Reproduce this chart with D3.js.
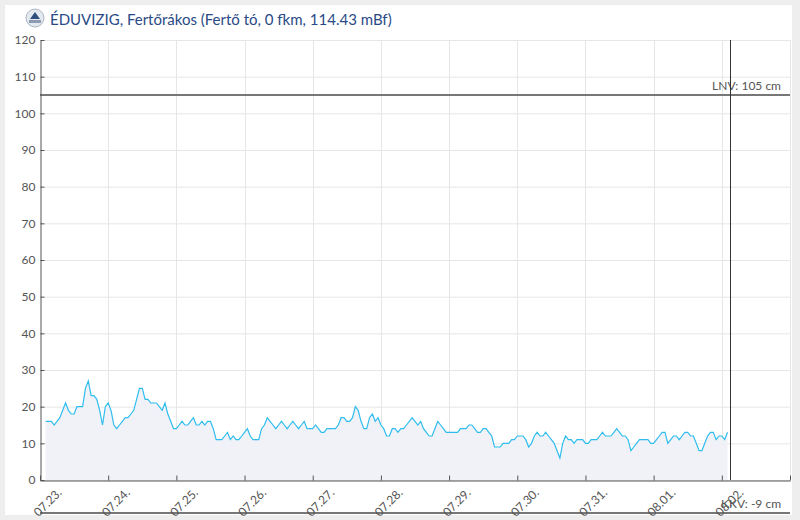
<!DOCTYPE html>
<html>
<head>
<meta charset="utf-8">
<script src="https://cdn.jsdelivr.net/npm/d3@7"></script>
<style>
  body { margin: 0; background: #eeeeee; }
  svg { display: block; font-family: Lato, "Open Sans", sans-serif; }
</style>
</head>
<body>
<svg id="chart" width="800" height="520"></svg>
<script>
// chart data
const title = "ÉDUVIZIG, Fertőrákos (Fertő tó, 0 fkm, 114.43 mBf)";
const firstHour = "2024-07-23T02:00:00";   // hourly readings from here
const levels = [
  16,16,16,15,16,17,19,21,19,
  18,18,20,20,20,25,27,23,23,22,
  19,15,20,21,19,15,14,15,16,17,
  17,18,19,22,25,25,22,22,21,21,
  21,20,19,21,18,16,14,14,15,16,
  15,15,16,17,15,15,16,15,16,16,
  14,11,11,11,12,13,11,12,11,11,
  12,13,14,12,11,11,11,14,15,17,
  16,15,14,15,16,15,14,15,16,15,
  14,15,16,14,14,14,15,14,13,13,
  14,14,14,14,15,17,17,16,16,17,
  20,19,16,14,14,17,18,16,17,15,
  14,12,12,14,14,13,14,14,15,16,
  17,16,15,16,14,13,12,12,14,16,
  15,14,13,13,13,13,13,14,14,14,
  15,15,14,13,13,14,14,13,12,9,
  9,9,10,10,10,11,11,12,12,12,
  11,9,10,12,13,12,12,13,12,11,
  10,8,6,10,12,11,11,10,11,11,
  11,10,10,11,11,11,12,13,12,12,
  12,13,14,13,12,12,11,8,9,10,
  11,11,11,11,10,10,11,12,13,
  13,10,11,12,12,11,12,13,13,12,
  12,10,8,8,10,12,13,13,11,12,
  12,11,13
];
const dayTicks = ["2024-07-23","2024-07-24","2024-07-25","2024-07-26","2024-07-27","2024-07-28",
                  "2024-07-29","2024-07-30","2024-07-31","2024-08-01","2024-08-02"];
const yTicks = [0,10,20,30,40,50,60,70,80,90,100,110,120];
const xDomain = ["2024-07-23T00:00:00", "2024-08-03T00:00:00"];
const nowTime = "2024-08-02T03:00:00";
const lnv = 105;   // LNV: 105 cm
const kkv = -9;    // KKV: -9 cm

const parse = d3.isoParse;
const t0 = parse(firstHour);
const data = levels.map((v, i) => ({date: d3.timeHour.offset(t0, i), value: v}));

const svg = d3.select("#chart");

// white panel
svg.append("rect")
    .attr("x", 5).attr("y", 5)
    .attr("width", 787).attr("height", 510)
    .attr("fill", "#fff");

// logo + title
const logo = svg.append("g").attr("transform", "translate(35,18)");
logo.append("circle").attr("r", 9).attr("fill", "#e4e9ef").attr("stroke", "#9aa6b6").attr("stroke-width", 0.8);
logo.append("path").attr("d", "M-5,1 L0,-6 L5,1 Z").attr("fill", "#2f4f7f");
logo.append("rect").attr("x", -6).attr("y", 2).attr("width", 12).attr("height", 3).attr("fill", "#8d9bb0");

svg.append("text")
    .attr("x", 50).attr("y", 25)
    .attr("fill", "#2a4a86")
    .style("font-size", "15px")
    .text(title);

const margin = {top: 40, left: 40, right: 10, bottom: 40};
const width = 790 - margin.left;
const height = 480 - margin.top;

const g = svg.append("g")
    .attr("transform", `translate(${margin.left}, ${margin.top})`);

const xScale = d3.scaleTime()
    .domain(xDomain.map(parse))
    .range([0, width]);

const yScale = d3.scaleLinear()
    .domain([0, 120])
    .range([height, 0]);

// grid
g.append("g")
    .selectAll("line")
    .data(yTicks)
    .join("line")
    .attr("x1", 0).attr("x2", width)
    .attr("y1", d => yScale(d) + 0.5).attr("y2", d => yScale(d) + 0.5)
    .attr("stroke", "#e6e6e6");

g.append("g")
    .selectAll("line")
    .data(dayTicks.slice(1).map(parse).concat([parse(xDomain[1])]))
    .join("line")
    .attr("x1", d => Math.round(xScale(d)) + 0.5).attr("x2", d => Math.round(xScale(d)) + 0.5)
    .attr("y1", 0).attr("y2", height)
    .attr("stroke", "#e6e6e6");

// area + line
const area = d3.area()
    .x(d => xScale(d.date))
    .y0(yScale(0))
    .y1(d => yScale(d.value));

const line = d3.line()
    .x(d => xScale(d.date))
    .y(d => yScale(d.value));

g.append("path")
    .datum(data)
    .attr("d", area)
    .attr("fill", "#f1f2f7");

g.append("path")
    .datum(data)
    .attr("d", line)
    .attr("fill", "none")
    .attr("stroke", "#2fbdee")
    .attr("stroke-width", 1.2);

// threshold lines
[{v: lnv, label: "LNV: " + lnv + " cm"}, {v: kkv, label: "KKV: " + kkv + " cm"}].forEach(t => {
    g.append("line")
        .attr("x1", 0).attr("x2", width)
        .attr("y1", yScale(t.v)).attr("y2", yScale(t.v))
        .attr("stroke", "#777")
        .attr("stroke-width", 2);
    g.append("text")
        .attr("x", width - 9)
        .attr("y", yScale(t.v) - 5)
        .attr("text-anchor", "end")
        .attr("fill", "#555")
        .style("font-size", "12px")
        .text(t.label);
});

// axes
const yAxis = d3.axisLeft(yScale)
    .tickValues(yTicks)
    .tickSizeInner(-4)
    .tickSizeOuter(0)
    .tickPadding(5);

const yg = g.append("g")
    .attr("transform", "translate(0.5,0)")
    .call(yAxis);
yg.select(".domain").attr("stroke", "#555");
yg.selectAll(".tick line").attr("stroke", "#555");
yg.selectAll("text").attr("fill", "#555").style("font-size", "12px").style("font-family", "Lato, 'Open Sans', sans-serif");

const xAxis = d3.axisBottom(xScale)
    .tickValues(dayTicks.map(parse).concat([parse(xDomain[1])]))
    .tickFormat(d3.timeFormat("%m.%d."))
    .tickSizeInner(-5)
    .tickSizeOuter(0);

const xg = g.append("g")
    .attr("transform", `translate(0, ${height + 0.5})`)
    .call(xAxis);
xg.select(".domain").attr("stroke", "#555");
xg.selectAll(".tick line").attr("stroke", "#555");
xg.selectAll(".tick").filter((d, i) => i === dayTicks.length).select("text").remove();
xg.selectAll("text")
    .attr("fill", "#555")
    .style("font-size", "12px")
    .style("font-family", "Lato, 'Open Sans', sans-serif")
    .attr("text-anchor", "end")
    .attr("dy", null)
    .attr("y", null)
    .attr("transform", "translate(22,13) rotate(-45)");

// current time marker
g.append("line")
    .attr("x1", Math.round(xScale(parse(nowTime))) + 0.5)
    .attr("x2", Math.round(xScale(parse(nowTime))) + 0.5)
    .attr("y1", 0).attr("y2", height)
    .attr("stroke", "#333");
</script>
</body>
</html>
